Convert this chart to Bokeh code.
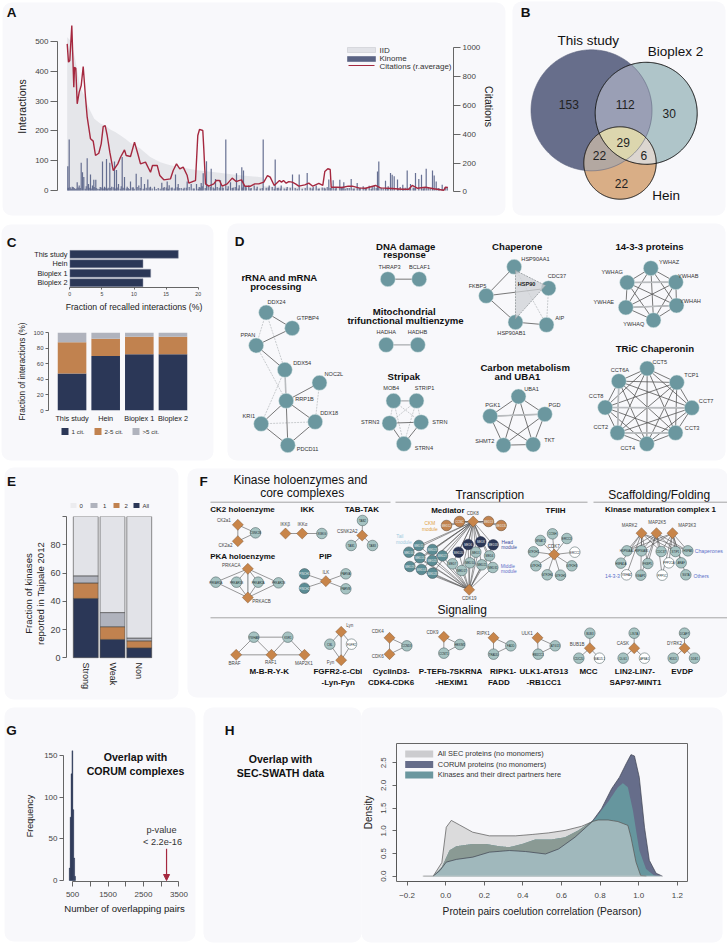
import itertools, math
import numpy as np
from bokeh.embed import file_html
from bokeh.resources import INLINE
from bokeh.plotting import figure
from bokeh.models import (Range1d, FactorRange, LinearAxis, FixedTicker, Column, Arrow, NormalHead)
from bokeh.core.properties import value

FONT = "Liberation Sans"
# ---------------- data ----------------
iid_rank = [0,4,8,13,18,20,23,27,33,38,43,48,53,58,63,73,83,93,103,113,123,130,150,170,190,195,196,230,300,381]
iid_values = [514,500,440,345,313,290,268,241,225,218,205,196,185,174,160,141,112,95,85,78,72,68,60,52,46,44,14,11,8,4]
kinome_rank = [0.6,2,3,5,7,10,12,14,15.3,16.6,20,21.3,23.3,25.3,26.6,28.6,30.6,33,35.3,37.3,39.3,41,42.6,44.5,47.3,49.3,51.3,55,57.3,60,63.3,66,69,71.6,74,77.3,80.6,83.3,87.3,91,94.6,97,100,102,105,108.3,111,114,117,120,124,127,129.3,
 132,134,136,139.3,141,144,146,148.3,150,153.3,156,158.6,161,163.3,166,169.3,172,174.6,176.3,179,181.6,184,187,190,193,196,199,202,205,208,211,214,217,220,225.3,228,232,235,240,243,246,249,252,255,258,261.6,264,266,269,272.6,275,276.6,280,284,287,290,293,296,299,302,305,307,310.3,311.6,314,318.3,321,323.3,325,327,330.3,333,335.6,338,340,343.3,346,348.3,351.6,354.3,357,359,361,365.3,367,369,372,375,378,380]
kinome_values = [81,171,11,13,8,28,17,93,61,45,108,22,54,17,36,36,6,12,97,13,106,9,93,13,97,69,22,112,45,13,30,11,56,17,45,22,37,13,13,8,26,12,30,18,10,54,22,8,9,30,22,7,22,
 12,25,58,98,15,73,10,39,12,34,9,171,14,28,10,58,18,78,67,11,17,8,17,13,7,171,9,17,12,104,9,17,7,12,54,8,54,6,59,9,12,17,7,10,7,37,10,34,9,36,13,28,8,39,7,25,9,14,9,16,12,16,64,97,9,33,14,59,53,48,37,12,19,9,67,22,10,59,39,53,10,73,12,67,50,30,7,19,12,12]
kinome_low_rank = [1,4,6,8,9,11,13,18,19,22,24,27,29,32,34,36,38,40,43,46,48,50,53,54,56,59,61,62,65,67,70,73,76,79,82,85,89,93,96,99,101,104,107,110,112,116,119,122,126,131,133,135,138,143,147,152,155,160,165,168,171,175,178,183,189,195,201,207,210,213,219,223,230,238,245,251,257,260,263,268,274,278,282,286,292,298,304,309,316,320,331,336,342,347,356,363,371]
kinome_low_values = [9,6,12,5,7,10,8,6,14,9,7,12,8,5,10,7,9,6,8,11,7,10,6,14,9,7,8,5,10,6,12,8,6,9,10,7,5,6,8,10,6,9,7,11,8,6,9,12,7,6,10,14,8,12,7,9,11,6,8,12,7,10,13,7,6,8,10,6,8,7,6,9,6,8,7,6,9,12,8,7,10,6,8,6,9,7,5,9,7,8,6,7,9,8,7,6,8]
cit_rank = [0,1.3,2.6,4.6,6.6,7.3,8.6,10,12,14,16,18.3,20,23.3,26,28.3,31.6,34,36,38,40,42.6,46,50.6,53.3,57.3,59,63.3,67.3,70.6,73.3,78.3,83.3,85.3,90,92.6,96.6,103.3,106,109.3,112.6,116,120,121.6,126.6,128.3,130.6,132.3,135.6,136.6,138.3,141.6,146.6,149,152.3,155,160,165,169,171.6,174.3,177.6,183.3,187.6,191.6,196.6,200.3,203,207,212.3,214.3,216.3,219,221.6,225,228.3,231.6,237.6,241.6,245.6,251.6,255.6,257.6,260.6,263,264,270,275,281,285,291.6,298.3,308.3,313.3,325,335,341.6,345,350,358.3,366.6,376.6,378.3,380.6]
cit_values = [1027,900,912,1155,727,865,858,611,692,738,870,657,518,368,352,252,268,333,453,460,391,275,148,194,240,291,252,245,345,264,194,206,136,183,183,113,83,90,148,194,159,171,113,60,74,78,391,433,426,298,55,39,55,78,78,39,55,95,71,78,83,39,39,55,55,67,113,102,44,78,67,78,60,71,67,55,39,48,60,39,58,44,141,160,155,32,32,30,39,39,27,25,44,27,23,18,18,44,25,32,21,11,32,30]
venn_labels = ["This study","Bioplex 2","Hein"]
venn_counts = [153,112,30,29,22,6,22]
recall_names = ["This study","Hein","Bioplex 1","Bioplex 2"]
recall_values = [16.9,11.4,12.6,11.4]
cit1 = [47.5,70,72,72]
cit2_5 = [40,22,22.5,22.5]
cit5 = [12.5,8,5.5,5.5]
e_names = ["Strong","Weak","Non"]
e_all = [42,13,7]
e_2 = [11,9,5]
e_1 = [5,10,2]
e_0 = [42,68,86]
g_bins = [420,445,470,495,520,545,570]
g_counts = [15,76,128,157,85,27,5]
h_all_x = [-.116,-.065,-.02,.003,.029,.072,.14,.226,.362,.448,.533,.619,.704,.764,.79,.841,.892,.944,.96,.986,1.01,1.04]
h_all_y = [0,0,.3,1.08,1.23,1.13,.97,.89,.89,.92,.955,1.01,1.10,1.21,1.24,1.24,1.205,1.12,.86,.31,.015,0]
h_cor_x = [-.065,-.03,.003,.055,.14,.226,.33,.414,.517,.585,.67,.756,.807,.86,.9,.935,.96,.978,1.003,1.03,1.055,1.09,1.123]
h_cor_y = [0,.125,.31,.37,.42,.53,.566,.544,.49,.60,.86,1.19,1.485,1.93,2.18,2.48,2.68,2.65,2.18,1.08,.35,.066,0]
h_kin_x = [-.065,-.02,.02,.055,.14,.21,.277,.33,.397,.465,.55,.62,.687,.773,.84,.892,.918,.944,.97,1.003,1.038,1.08,1.115]
h_kin_y = [0,.2,.57,.66,.71,.71,.66,.64,.71,.81,.81,.86,1.01,1.26,1.63,1.96,2.05,1.96,1.45,.57,.16,.015,0]

NAVY="#2b3757"; ORANGE="#c1824f"; GREY="#b0b3bd"; LIGHT="#e2e3e8"; PANEL="#f8f8fb"
TEAL="#6b979f"; PALE="#a6c3c2"; DTEAL="#5b8c94"; DARK="#222222"; RED="#a5283f"

# ---------------- canvas ----------------
c = figure(width=727, height=943, x_range=Range1d(0,727), y_range=Range1d(943,0),
           toolbar_location=None, output_backend="svg", min_border=0, frame_align=False,
           x_axis_location=None, y_axis_location=None,
           styles={"position":"absolute","left":"0px","top":"0px"})
c.grid.visible=False; c.outline_line_color=None; c.background_fill_color="white"; c.border_fill_color="white"

panels=[(2,2,505,215),(512,1,725,215),(1,224,213,460),(227,223,725,460),(4,467,178,699),(187,468,727,697),(4,707,195,941),(203,707,361,942),(361,707,722,942)]
c.quad(left=[a[0] for a in panels],top=[a[1] for a in panels],right=[a[2] for a in panels],bottom=[a[3] for a in panels],
       fill_color=PANEL,line_color=None,border_radius=9)

def T(x,y,s,size=8,bold=False,color=DARK,align="center",angle=0):
    c.text(x=[x],y=[y],text=[s],text_font=value(FONT),text_font_size=f"{size}px",
           text_font_style="bold" if bold else "normal",text_color=color,text_align=align,
           text_baseline="middle",angle=angle)

for s,x,y in [("A",11,12),("B",525,12),("C",11,241.7),("D",239,241),("E",11,481),("F",203,481),("G",11,730),("H",229,730)]:
    T(x,y,s,13.5,True,"#111111")

# legend A
c.quad(left=[347,347],right=[375,375],top=[47,56],bottom=[52,61],fill_color=[LIGHT,"#5a6384"],line_color=["#c8c9d0","#5a6384"],line_width=.6)
c.line([348,374],[65,65],line_color=RED,line_width=1.2)
T(379,50,"IID",8,color="#333333",align="left"); T(379,58,"Kinome",8,color="#333333",align="left"); T(379,65.5,"Citations (r.average)",8,color="#333333",align="left")

# Venn
def circ(cx,cy,r,n=360):
    t=np.linspace(0,2*np.pi,n,endpoint=False); return np.c_[cx+r*np.cos(t),cy+r*np.sin(t)]
CA=(591,109.8,60.5); CB=(645.7,112.8,51); CC=(619.5,162.5,36.2)
def inter(*Cs):
    pts=np.vstack([circ(*C,n=720) for C in Cs]); keep=np.ones(len(pts),bool)
    for C in Cs: keep&=(pts[:,0]-C[0])**2+(pts[:,1]-C[1])**2<=C[2]**2+.01
    pts=pts[keep]; m=pts.mean(0); o=np.argsort(np.arctan2(pts[:,1]-m[1],pts[:,0]-m[0])); pts=pts[o]
    return pts
for C,col in [(CA,"#676e8b"),(CB,"#afc5c9"),(CC,"#d9ae86")]:
    P=circ(*C); c.patch(P[:,0],P[:,1],fill_color=col,line_color=None)
for Cs,col in [((CA,CB),"#9a9fb5"),((CA,CC),"#b3a8a1"),((CB,CC),"#dcd6d0"),((CA,CB,CC),"#dcd6ae")]:
    P=inter(*Cs); c.patch(P[:,0],P[:,1],fill_color=col,line_color=None)
for C,col,w in [(CA,"#5f6680",.6),(CB,"#111111",1.0),(CC,"#111111",1.0)]:
    P=circ(*C); P=np.vstack([P,P[:1]]); c.line(P[:,0],P[:,1],line_color=col,line_width=w)
for s,x,y in [(venn_labels[0],587.7,39.7),(venn_labels[1],675,51),(venn_labels[2],665.7,194.7)]:
    T(x,y,s,13.5,color="#111111")
for s,x,y in zip(venn_counts,[568.3,624.7,668.7,622.7,599,643.3,621],[104.3,104.3,113,142.3,155.3,155.3,182.7]):
    T(x,y,str(s),12,color="#222222")

# ---------------- panel D networks ----------------
def zf(ox,oy):
    return lambda x,y:(ox+x/3,oy+y/3)
z4=zf(220,220); z6=zf(190,465); z7=zf(450,465); z12=zf(350,505)

def draw_d(nodes,solid=(),dashed=(),thick=()):
    for pairs,col,w,dash in [(dashed,"#b4b9bc",.7,"2 1"),(solid,"#555555",.8,"solid"),(thick,"#b9bcbf",1.6,"solid")]:
        for a,b in pairs:
            xa,ya=z4(*nodes[a][:2]); xb,yb=z4(*nodes[b][:2])
            c.line([xa,xb],[ya,yb],line_color=col,line_width=w,line_dash=dash)
    xs=[z4(*n[:2])[0] for n in nodes.values()]; ys=[z4(*n[:2])[1] for n in nodes.values()]
    c.circle(x=xs,y=ys,radius=7.5,fill_color=TEAL,line_color="#d9e6e6",line_width=.5)
    for name,n in nodes.items():
        lx,ly=z4(n[2],n[3]); T(lx,ly,name,5.6,color="#333333")

rna={"DDX24":(137,276,168,245),"GTPBP4":(215,323,262,293),"PPAN":(107,375,82,342),"DDX54":(193,448,245,427),"NOC2L":(297,487,340,461),"RRP1B":(197,541,252,536),"KRI1":(122,610,85,585),"DDX18":(284,604,326,578),"PDCD11":(202,674,261,684)}
draw_d(rna,solid=[("DDX24","GTPBP4"),("GTPBP4","PPAN"),("PPAN","DDX54"),("RRP1B","NOC2L"),("RRP1B","KRI1"),("RRP1B","DDX18"),("RRP1B","PDCD11"),("KRI1","PDCD11"),("DDX18","PDCD11")],
       dashed=[("DDX24","PPAN"),("DDX24","DDX54"),("PPAN","RRP1B"),("NOC2L","DDX18"),("KRI1","DDX18"),("DDX54","KRI1")],thick=[("DDX54","RRP1B")])
draw_d({"THRAP3":(502,176,507,138),"BCLAF1":(596,176,597,138)},solid=[("THRAP3","BCLAF1")])
draw_d({"HADHA":(497,373,497,335),"HADHB":(592,373,591,335)},thick=[("HADHA","HADHB")])
strip={"MOB4":(519,541,512,502),"STRIP1":(588,541,612,502),"STRN3":(507,608,449,604),"STRN":(602,605,658,603),"STRN4":(550,670,610,683)}
draw_d(strip,solid=[("STRN3","STRN"),("STRN3","STRN4"),("STRN","STRN4")],thick=[("MOB4","STRIP1")],
       dashed=[("MOB4","STRN3"),("MOB4","STRN"),("MOB4","STRN4"),("STRIP1","STRN3"),("STRIP1","STRN"),("STRIP1","STRN4")])
tri=[z4(885,150),z4(975,195),z4(885,295)]
chap={"HSP90AA1":(881,139,945,116),"CDC37":(984,203,1009,165),"FKBP5":(797,226,771,195),"HSP90AB1":(885,305,873,337),"AIP":(978,313,1018,291)}
draw_d(chap,solid=[("HSP90AA1","FKBP5"),("FKBP5","HSP90AB1"),("FKBP5","CDC37"),("HSP90AB1","AIP")],dashed=[("CDC37","AIP"),("HSP90AA1","AIP")])
c.patch([p[0] for p in tri],[p[1] for p in tri],fill_color="#cfd2d5",fill_alpha=.75,line_color="#9a9fa3",line_width=.9,line_dash="2 1")
T(*z4(918,190),"HSP90",5.6,True)
w14={"YWHAZ":(1291,143,1346,125),"YWHAG":(1220,186,1175,153),"YWHAB":(1366,185,1403,166),"YWHAE":(1216,261,1150,243),"YWHAH":(1368,255,1410,240),"YWHAQ":(1299,299,1240,310)}
draw_d(w14,solid=list(itertools.combinations(w14,2)),thick=[("YWHAG","YWHAB"),("YWHAE","YWHAH")])
tric={"CCT5":(1280,444,1318,423),"CCT6A":(1195,482,1198,449),"TCP1":(1369,486,1413,463),"CCT8":(1154,561,1127,527),"CCT7":(1414,562,1457,540),"CCT2":(1191,637,1141,620),"CCT3":(1365,637,1415,622),"CCT4":(1279,670,1222,683)}
draw_d(tric,solid=list(itertools.combinations(tric,2)),thick=[("CCT8","CCT7"),("CCT2","CCT3"),("CCT6A","CCT2")])
carb={"UBA1":(894,528,933,504),"PGK1":(809,587,817,552),"PGD":(973,581,1002,553),"SHMT2":(849,674,793,661),"TKT":(938,672,987,658)}
draw_d(carb,solid=list(itertools.combinations(carb,2)),thick=[("PGK1","PGD")])
for s,x,y in [("rRNA and mRNA",177,172),("processing",166,197),("DNA damage",556,78),("response",552,101),("Mitochondrial",551,273),("trifunctional multienzyme",555,300),("Stripak",550,467),("Chaperone",890,77),("14-3-3 proteins",1287,78),("TRiC Chaperonin",1303,385),("Carbon metabolism",914,441),("and UBA1",891,468)]:
    T(*z4(x,y),s,9.6,True,"#111111")

# ---------------- panel F networks ----------------
KIND={"c":(PALE,"#3f5557"),"w":("#ffffff","#3f5557"),"k":(DTEAL,"#3a4c50"),"n":(NAVY,"#1e2740"),"o":(ORANGE,"#5d4025")}
def draw_f(z,nodes,edges=(),thick=(),r=5.3):
    for a,b in edges:
        pa=z(*nodes[a][:2]); pb=z(*nodes[b][:2]); c.line([pa[0],pb[0]],[pa[1],pb[1]],line_color="#555555",line_width=.6)
    for a,b in thick:
        pa=z(*nodes[a][:2]); pb=z(*nodes[b][:2]); c.line([pa[0],pb[0]],[pa[1],pb[1]],line_color="#a9adb0",line_width=1.6)
    for name,n in nodes.items():
        x,y=z(n[0],n[1]); k=n[2]
        if k=="d":
            c.scatter([x],[y],marker="square",angle=math.pi/4,size=7.8,fill_color="#c8854a",line_color="#6d4a2b",line_width=.4)
        else:
            f,l=KIND[k]; c.circle([x],[y],radius=r,fill_color=f,line_color=l,line_width=.5)
            T(x,y,name,2.8,color="#e8eeee" if k in "kno" else "#223033")
        if len(n)>3:
            lx,ly=z(n[3],n[4]); T(lx,ly,name,4.5,color="#444444")

draw_f(z6,{"CK2a1":(142,178,"d",100,166),"CK2a2":(142,227,"d",105,241),"CSNK2B":(195,202,"c")},[("CK2a1","CK2a2"),("CK2a1","CSNK2B"),("CK2a2","CSNK2B")])
draw_f(z6,{"IKKβ":(285,204,"d",284,176),"IKKα":(335,204,"d",336,176),"IKBKG":(394,204,"c")},[("IKKβ","IKKα"),("IKKα","IKBKG")])
draw_f(z6,{"TAB2":(516,165,"c"),"CSNK2A2":(515,210,"d",470,198),"TAB1":(482,240,"c"),"TAB3":(546,240,"c")},[("CSNK2A2","TAB2"),("CSNK2A2","TAB1"),("CSNK2A2","TAB3")])
pka={"PRKAR1A":(76,350,"c"),"PRKAR1B":(138,350,"c"),"PRKAR2A":(203,350,"c"),"PRKAR2B":(264,352,"c"),"PRKACA":(172,310,"d",122,301),"PRKACB":(172,396,"d",213,408)}
draw_f(z6,pka,[(d,k) for d in ("PRKACA","PRKACB") for k in ("PRKAR1A","PRKAR1B","PRKAR2A","PRKAR2B")],thick=[("PRKACA","PRKACB")])
draw_f(z6,{"PINCH1":(342,325,"k"),"PINCH2":(342,368,"k"),"PARVA":(466,325,"c"),"PARVB":(466,370,"c"),"ILK":(406,347,"d",406,321)},[("ILK","PINCH1"),("ILK","PINCH2"),("ILK","PARVA"),("ILK","PARVB")])
draw_f(z6,{"YWHAB":(190,515,"c"),"KSR1":(292,515,"c"),"BRAF":(137,568,"d",132,593),"RAF1":(243,568,"d",241,590),"MAP2K1":(342,568,"d",340,593)},
       [("YWHAB","KSR1"),("BRAF","YWHAB"),("RAF1","YWHAB"),("RAF1","KSR1"),("MAP2K1","KSR1"),("BRAF","RAF1"),("RAF1","MAP2K1")])
draw_f(z6,{"CBL":(418,536,"c"),"FGFR2":(483,536,"w"),"Lyn":(452,499,"d",478,481),"Fyn":(452,584,"d",420,591)},
       [("Lyn","CBL"),("Lyn","FGFR2"),("Fyn","CBL"),("Fyn","FGFR2"),("Lyn","Fyn")])
draw_f(z6,{"CCND3":(649,541,"c"),"CDK4":(597,517,"d",562,498),"CDK6":(597,566,"d",562,574)},[("CDK4","CDK6"),("CDK4","CCND3"),("CDK6","CCND3")])
draw_f(z6,{"CCNT1":(760,563,"c"),"HEXIM1":(808,537,"c"),"CDK9":(760,514,"d",726,500)},[("CDK9","CCNT1"),("CDK9","HEXIM1"),("CCNT1","HEXIM1")])
draw_f(z7,{"FADD":(181,541,"c"),"TRADD":(129,566,"c"),"RIPK1":(129,517,"d",98,503)},[("RIPK1","FADD"),("RIPK1","TRADD"),("FADD","TRADD")])
draw_f(z7,{"ATG13":(314,541,"c"),"RB1CC1":(263,566,"c"),"ULK1":(261,517,"d",230,503)},[("ULK1","ATG13"),("ULK1","RB1CC1"),("ATG13","RB1CC1")])
draw_f(z7,{"BUB3":(418,503,"c"),"CDC20":(385,578,"c"),"MAD2L1":(447,578,"w"),"BUB1B":(418,548,"d",380,537)},[("BUB1B","BUB3"),("BUB1B","CDC20"),("BUB1B","MAD2L1")])
draw_f(z7,{"LIN7A":(551,503,"c"),"DLG1":(518,578,"c"),"APBA1":(582,578,"w"),"CASK":(551,548,"d",517,535)},[("CASK","LIN7A"),("CASK","DLG1"),("CASK","APBA1")])
draw_f(z7,{"DCAF7":(702,503,"c"),"EDD1":(668,578,"c"),"DDB1":(732,578,"c"),"DYRK2":(702,548,"d",672,535)},[("DYRK2","DCAF7"),("DYRK2","EDD1"),("DYRK2","DDB1")])
tf={"CCNH":(306,205,"c"),"ERCC3":(349,219,"c"),"MNAT1":(270,225,"c"),"GTF2H1":(249,259,"c"),"ERCC2":(373,260,"w"),"GTF2H2":(256,301,"c"),"GTF2H3":(364,301,"c"),"GTF2H4":(290,328,"c"),"GTF2H5":(330,329,"c"),"CDK7":(311,267,"d",310,243)}
draw_f(z7,tf,[("CDK7",k) for k in tf if k!="CDK7"])
mat={"HSP90AA1":(529,256,"c"),"HSP90AB1":(573,256,"c"),"CDC37":(632,258,"c"),"STIP1":(675,258,"c"),"HSPA8":(712,256,"c"),"HSPA1A":(511,293,"c"),"FKBP5 ":(592,294,"c"),"PPP2CA":(655,292,"w"),"ARAF":(692,292,"c"),"YWHAZ":(528,328,"w"),"KEAP1":(571,329,"c"),"PPP5C":(635,329,"w"),"SGTA":(706,328,"c"),
     "MARK2":(573,203,"d",537,179),"MAP2K5":(618,203,"d",620,171),"MAP3K3":(666,203,"d",710,181)}
mat_e=[(d,k) for d in ("MARK2","MAP2K5","MAP3K3") for k in ("HSP90AA1","HSP90AB1","CDC37","STIP1","HSPA8")]+[("MARK2","HSPA1A"),("MARK2","FKBP5 "),("MARK2","YWHAZ"),("MARK2","KEAP1"),("MAP2K5","FKBP5 "),("MAP2K5","KEAP1"),("MAP2K5","PPP5C"),("MAP3K3","PPP2CA"),("MAP3K3","ARAF"),("MAP3K3","SGTA"),("MAP3K3","PPP5C")]
draw_f(z7,mat,mat_e)
med_t={f"MED{n}":p for n,p in zip([15,16,23,24,25,27,29,14,28],[(205,120),(175,140),(246,132),(208,157),(245,165),(276,151),(178,183),(213,192),(246,203)])}
med_h={f"MED{n}":p for n,p in zip([6,8,18,20],[(353,117),(391,109),(428,118),(324,140)])}
med_m={f"MED{n}":p for n,p in zip([1,4,7,10,21,31,17],[(376,140),(417,151),(306,175),(358,172),(394,178),(427,186),(334,195)])}
med_o={"MED12":(288,60),"CCNC":(327,48),"MED13":(414,48),"MED13L":(452,60)}
med={}
for d,k in [(med_t,"k"),(med_h,"n"),(med_m,"c"),(med_o,"o")]:
    for n,p in d.items(): med[n]=(p[0],p[1],k)
med["CDK8"]=(368,48,"d",367,24); med["CDK19"]=(356,253,"d",356,278)
med_e=[("CDK8",n) for n in med if n not in("CDK8","CDK19")]+[("CDK19",n) for n in list(med_t)+list(med_h)+list(med_m)]+[("MED12","CCNC"),("CCNC","CDK8"),("CDK8","MED13"),("MED13","MED13L")]
draw_f(z12,med,med_e)
# F texts
for z,s,x,y,sz,b,col in [(z6,"Kinase holoenzymes and",330,42,12,False,"#111111"),(z6,"core complexes",335,83,12,False,"#111111"),(z7,"Transcription",118,88,12,False,"#111111"),(z7,"Scaffolding/Folding",626,88,12,False,"#111111"),(z12,"Signaling",335,312,12,False,"#111111"),
   (z6,"CK2 holoenzyme",156,132,8,True,"#111111"),(z6,"IKK",351,132,8,True,"#111111"),(z6,"TAB-TAK",514,133,8,True,"#111111"),(z6,"PKA holoenzyme",157,274,8,True,"#111111"),(z6,"PIP",405,274,8,True,"#111111"),(z12,"Mediator",292,14,8,True,"#111111"),(z7,"TFIIH",315,134,8,True,"#111111"),(z7,"Kinase maturation complex 1",630,133,8,True,"#111111"),
   (z6,"M-B-R-Y-K",236,618,8,True,"#111111"),(z6,"FGFR2-c-Cbl",442,618,8,True,"#111111"),(z6,"CyclinD3-",602,618,8,True,"#111111"),(z7,"RIPK1-",158,618,8,True,"#111111"),(z7,"ULK1-ATG13",280,618,8,True,"#111111"),(z7,"MCC",414,618,8,True,"#111111"),(z7,"LIN2-LIN7-",553,618,8,True,"#111111"),(z7,"EVDP",695,618,8,True,"#111111"),
   (z12,"CKM",238,55,4.8,False,"#e0a040"),(z12,"module",238,71,4.8,False,"#e0a040"),(z12,"Tail",148,94,4.8,False,"#9fcbe0"),(z12,"module",160,110,4.8,False,"#9fcbe0"),(z7,"Head",170,231,4.8,False,"#3a4a9a"),(z7,"module",176,247,4.8,False,"#3a4a9a"),(z7,"Middle",172,302,4.8,False,"#5b6fc8"),(z7,"module",175,319,4.8,False,"#5b6fc8"),
   (z7,"Chaperones",775,257,5.2,False,"#5b6fc8"),(z7,"14-3-3",486,331,5.2,False,"#5b6fc8"),(z7,"Others",752,331,5.2,False,"#5b6fc8")]:
    T(*z(x,y),s,sz,b,col)
for s,x,y in [("P-TEFb-7SKRNA",450,671),("-Lyn-Fyn",337.7,681.7),("CDK4-CDK6",390.7,681.7),("-HEXIM1",451,681.7),("FADD",498.3,681.7),("-RB1CC1",543.3,681.7),("SAP97-MINT1",635,681.7)]:
    T(x,y,s,8,True,"#111111")
for x0,x1,y in [(210,390,501.7),(395,587,501.7),(593,727,501.7),(210,727,617.3)]:
    c.line([x0,x1],[y,y],line_color="#9a9a9a",line_width=.9)

# other canvas text
c.quad(left=[61,94,132],right=[68,101,139],top=[427.5]*3,bottom=[434.5]*3,fill_color=[NAVY,ORANGE,GREY],line_color=None)
for x,s in [(71,"1 cit."),(104,"2-5 cit."),(142,">5 cit.")]:
    T(x,431,s,6.2,color="#333333",align="left")
c.quad(left=[70,90,113,133],right=[76,97,119,139],top=[502.5]*4,bottom=[507.5]*4,fill_color=["#ececef",GREY,ORANGE,NAVY],line_color=None)
for x,s in [(79,"0"),(102.5,"1"),(124,"2"),(142,"All")]:
    T(x,505,s,6,color="#333333",align="left")
T(28,593,"Fraction of kinases",9.6,color="#222222",angle=math.pi/2)
T(40,593,"reported in Taipale 2012",9.6,color="#222222",angle=math.pi/2)
T(135,756,"Overlap with",10.6,True,"#111111"); T(135,770,"CORUM complexes",10.6,True,"#111111")
T(161,829,"p-value",9.2,color="#333333"); T(162,841,"< 2.2e-16",9.2,color="#333333")
T(280,758,"Overlap with",10.6,True,"#111111"); T(280,772,"SEC-SWATH data",10.6,True,"#111111")
c.quad(left=[404.7]*3,right=[432.7]*3,top=[750,760.5,771],bottom=[757,767.5,778],fill_color=["#cccccf","#666d8a",TEAL],line_color=None)
for y,s in [(753,"All SEC proteins (no monomers)"),(763.7,"CORUM proteins (no monomers)"),(774.3,"Kinases and their direct partners here")]:
    T(437.3,y,s,7.4,color="#333333",align="left")

# ---------------- charts ----------------
def rng(p0,p1,pa,va,pb,vb):
    s=(vb-va)/(pb-pa)
    return Range1d(va+(p0-pa)*s, va+(p1-pa)*s)
def rngy(p0,p1,pa,va,pb,vb):
    s=(vb-va)/(pb-pa)
    return Range1d(va+(p1-pa)*s, va+(p0-pa)*s)
def chart(x0,y0,x1,y1,l,r,t,b,xr,yr):
    f=figure(width=x1-x0+l+r,height=y1-y0+t+b,x_range=xr,y_range=yr,toolbar_location=None,output_backend="svg",
             min_border_left=l,min_border_right=r,min_border_top=t,min_border_bottom=b,frame_align=False,
             styles={"position":"absolute","left":f"{x0-l}px","top":f"{y0-t}px"})
    f.grid.visible=False; f.outline_line_color=None
    f.background_fill_alpha=0; f.border_fill_alpha=0
    return f
def style(a,size=8,tick=4,col="#444444",lab=None,ls=None,so=4,mso=2):
    a.major_label_text_font=FONT; a.major_label_text_font_size=f"{size}px"; a.major_label_text_color=col
    a.axis_line_color="#555555"; a.major_tick_line_color="#555555"; a.axis_line_width=.9; a.major_tick_line_width=.9
    a.major_tick_out=tick; a.major_tick_in=0; a.minor_tick_line_color=None; a.major_label_standoff=mso
    if lab:
        a.axis_label=lab; a.axis_label_text_font=FONT; a.axis_label_text_font_size=f"{ls}px"
        a.axis_label_text_font_style="normal"; a.axis_label_text_color="#222222"; a.axis_label_standoff=so

# A
fa=chart(57,20,453,192,50,50,4,4,rng(57,453,66.7,0,447.7,381),rngy(20,192,190,0,41,500))
fa.extra_y_ranges={"cit":rngy(20,192,191.3,0,47.3,1000)}
fa.varea(x=iid_rank,y1=0,y2=iid_values,fill_color=LIGHT,fill_alpha=.9)
fa.vbar(x=kinome_low_rank,top=kinome_low_values,bottom=0,width=1.1,fill_color="#4e5880",fill_alpha=.85,line_color=None)
fa.vbar(x=kinome_rank,top=kinome_values,bottom=0,width=1.2,fill_color="#4e5880",fill_alpha=.85,line_color=None)
fa.line(x=cit_rank,y=cit_values,y_range_name="cit",line_color=RED,line_width=1.4)
fa.xaxis.visible=False
style(fa.yaxis[0],8,7,lab="Interactions",ls=10.5,so=4); fa.yaxis[0].bounds=(0,500); fa.yaxis[0].ticker=FixedTicker(ticks=[0,100,200,300,400,500])
ax=LinearAxis(y_range_name="cit"); fa.add_layout(ax,"right")
style(ax,8,7,lab="Citations",ls=10.5,so=0); ax.bounds=(0,1000); ax.ticker=FixedTicker(ticks=[0,200,400,600,800,1000])

# C top
fc1=chart(69,249,198,292,50,10,2,22,rng(69,198,69.3,0,197.7,20),FactorRange(factors=recall_names[::-1],range_padding=0))
fc1.hbar(y=recall_names,right=recall_values,left=0,height=.84,fill_color=NAVY,line_color="#8d93a5",line_width=.5)
style(fc1.xaxis[0],5.2,2,lab="Fraction of recalled interactions (%)",ls=8.7,so=3); fc1.xaxis[0].ticker=FixedTicker(ticks=[0,5,10,15,20])
style(fc1.yaxis[0],7.3,0,col="#222222"); fc1.yaxis[0].axis_line_color=None; fc1.yaxis[0].major_tick_line_color=None

# C stack
fc2=chart(43,332,196,410,28,6,30,30,FactorRange(factors=recall_names,range_padding=.2,range_padding_units="absolute"),rngy(332,410,410,0,332,100))
b1=np.array(cit1); b2=b1+np.array(cit2_5); b3=b2+np.array(cit5)
fc2.vbar(x=recall_names,bottom=0,top=b1,width=.85,fill_color=NAVY,line_color=None)
fc2.vbar(x=recall_names,bottom=b1,top=b2,width=.85,fill_color=ORANGE,line_color=None)
fc2.vbar(x=recall_names,bottom=b2,top=b3,width=.85,fill_color=GREY,line_color=None)
style(fc2.xaxis[0],7.3,0,col="#222222"); fc2.xaxis[0].axis_line_color=None; fc2.xaxis[0].major_label_standoff=3
style(fc2.yaxis[0],6,3,lab="Fraction of interactions (%)",ls=8.2,so=3); fc2.yaxis[0].bounds=(0,100); fc2.yaxis[0].ticker=FixedTicker(ticks=[0,20,40,60,80,100])

# E
fe=chart(63,516,158,658,16,4,2,40,FactorRange(factors=e_names,range_padding=.22,range_padding_units="absolute"),rngy(516,658,657.3,0,516,100))
s=np.zeros(3)
for v,col in [(e_all,NAVY),(e_2,ORANGE),(e_1,GREY),(e_0,LIGHT)]:
    fe.vbar(x=e_names,bottom=s,top=s+np.array(v),width=.93,fill_color=col,line_color="#444444",line_width=.6); s=s+np.array(v)
style(fe.xaxis[0],9,0,col="#222222"); fe.xaxis[0].axis_line_color=None; fe.xaxis[0].major_label_orientation="vertical"; fe.xaxis[0].major_label_standoff=4
style(fe.yaxis[0],9,4); fe.yaxis[0].bounds=(0,100); fe.yaxis[0].ticker=FixedTicker(ticks=[0,20,40,60,80,100]); fe.yaxis[0].major_label_overrides={100:""}

# G
fg=chart(60,750,185,881,38,10,0,36,rng(60,185,69.3,500,178.3,3500),rngy(750,881,880,0,755,150))
fg.vbar(x=g_bins,top=g_counts,bottom=0,width=25,fill_color=NAVY,line_color=NAVY,line_width=.4)
style(fg.xaxis[0],8,5,lab="Number of overlapping pairs",ls=9.6,so=3,mso=5); fg.xaxis[0].bounds=(500,3500)
fg.xaxis[0].ticker=FixedTicker(ticks=[500,1000,1500,2000,2500,3000,3500]); fg.xaxis[0].major_label_overrides={1000:"",2000:"",3000:""}
style(fg.yaxis[0],8,4,lab="Frequency",ls=9,so=6); fg.yaxis[0].bounds=(0,150); fg.yaxis[0].ticker=FixedTicker(ticks=[0,50,100,150])
fg.add_layout(Arrow(end=NormalHead(size=6,fill_color=RED,line_color=RED),x_start=3150,y_start=38,x_end=3150,y_end=0,line_color=RED,line_width=1.2))

# H
fh=chart(393,743,687,881,34,10,0,40,rng(393,687,442.7,0,676.7,1.2),rngy(743,881,875.7,0,762.3,2.5))
xs=np.linspace(-.12,1.125,500)
ya=np.interp(xs,h_all_x,h_all_y); yc=np.interp(xs,h_cor_x,h_cor_y); yk=np.interp(xs,h_kin_x,h_kin_y)
fh.varea(x=xs,y1=0,y2=yc,fill_color="#666d8a")
fh.varea(x=xs,y1=0,y2=ya,fill_color="#dbdbdc")
fh.varea(x=xs,y1=0,y2=yk,fill_color="#66969e")
fh.varea(x=xs,y1=0,y2=np.minimum(ya,yk),fill_color="#8a9a94")
fh.varea(x=xs,y1=0,y2=np.minimum(np.minimum(ya,yk),yc),fill_color="#a0b8bc")
fh.line(x=h_cor_x,y=h_cor_y,line_color="#3d4250",line_width=.7)
fh.line(x=h_all_x,y=h_all_y,line_color="#555555",line_width=.7)
fh.line(x=[-.12,1.125],y=[0,0],line_color="#cfd3d3",line_width=.8)
fh.outline_line_color="#666666"; fh.outline_line_width=1
style(fh.xaxis[0],8,4,lab="Protein pairs coelution correlation (Pearson)",ls=10.2,so=5,mso=7); fh.xaxis[0].ticker=FixedTicker(ticks=[-.2,0,.2,.4,.6,.8,1,1.2]); fh.xaxis[0].bounds=(-.2,1.2)
fh.xaxis[0].major_label_overrides={-.2:"−0.2",0:"0.0",.2:"0.2",.4:"0.4",.6:"0.6",.8:"0.8",1:"1.0",1.2:"1.2"}
style(fh.yaxis[0],8,4,lab="Density",ls=10,so=5,mso=6); fh.yaxis[0].ticker=FixedTicker(ticks=[0,.5,1,1.5,2,2.5]); fh.yaxis[0].bounds=(0,2.5)
fh.yaxis[0].major_label_orientation="vertical"; fh.yaxis[0].major_label_overrides={0:"0.0",.5:"0.5",1:"1.0",1.5:"1.5",2:"2.0",2.5:"2.5"}

root=Column(children=[c,fa,fc1,fc2,fe,fg,fh],width=727,height=943,styles={"position":"absolute","left":"0px","top":"0px"})
open("out.html","w").write(file_html(root,INLINE))
